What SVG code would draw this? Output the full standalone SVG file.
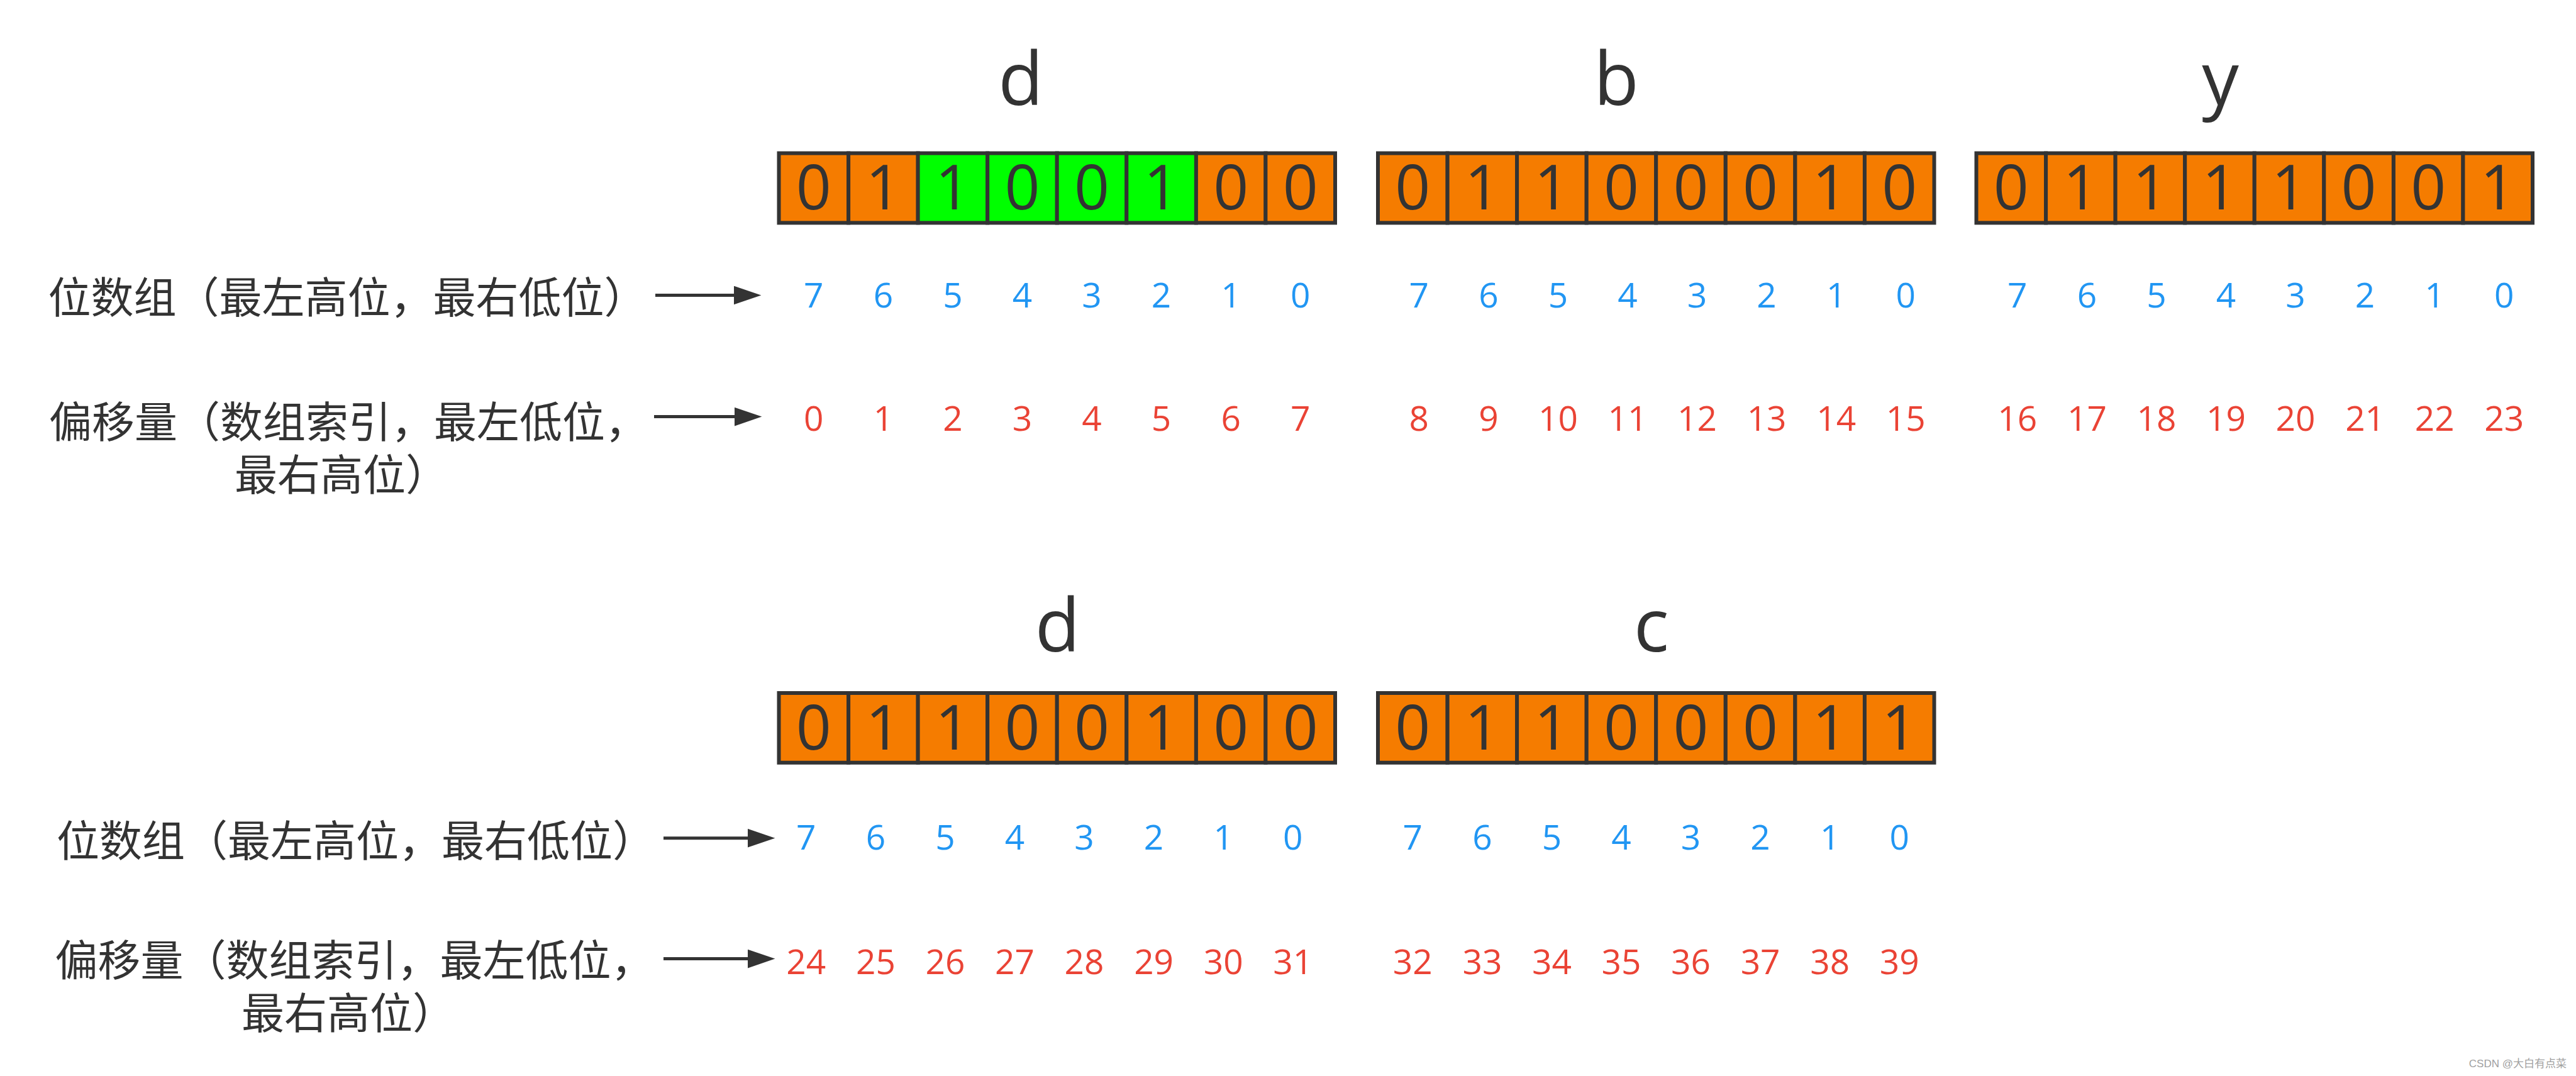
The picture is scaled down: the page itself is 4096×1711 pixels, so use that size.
<svg xmlns="http://www.w3.org/2000/svg" width="4096" height="1711" viewBox="0 0 4096 1711">
<style>
.cell{stroke:#333;stroke-width:6}
.o{fill:#F57C00}
.g{fill:#00FF00}
.bit{font-family:"Open Sans","Liberation Sans",sans-serif;font-size:98px;fill:#333;text-anchor:middle}
.lbl{font-family:"Open Sans","Liberation Sans",sans-serif;font-size:117px;fill:#333;text-anchor:middle}
.ib{font-family:"Open Sans","Liberation Sans",sans-serif;font-size:55px;fill:#2196F3;text-anchor:middle}
.ir{font-family:"Open Sans","Liberation Sans",sans-serif;font-size:55px;fill:#EA4335;text-anchor:middle}
.cn{font-family:"Noto Sans CJK SC","Noto Sans",sans-serif;font-size:68px;fill:#333}
.arr{stroke:#333;stroke-width:5;fill:none}
.wm{font-family:"Liberation Sans","Noto Sans CJK SC",sans-serif;font-size:17px;fill:#a0a0a0;text-anchor:end}
</style>
<defs>
<marker id="ah" markerUnits="userSpaceOnUse" markerWidth="44" markerHeight="30" refX="0" refY="14.8" orient="auto">
<path d="M0,0 L43.4,14.8 L0,29.6 Z" fill="#333"/>
</marker>
</defs>
<rect width="4096" height="1711" fill="#fff"/>

<g id="label-top-bits">
<text class="cn" x="76.6" y="497.5">位数组（最左高位，最右低位）</text>
</g>
<g id="label-top-offset">
<text class="cn" x="78" y="696">偏移量（数组索引，最左低位，<tspan x="373" y="780">最右高位）</tspan></text>
</g>
<g id="label-bottom-bits">
<text class="cn" x="90" y="1362">位数组（最左高位，最右低位）</text>
</g>
<g id="label-bottom-offset">
<text class="cn" x="87.5" y="1552">偏移量（数组索引，最左低位，<tspan x="384" y="1636">最右高位）</tspan></text>
</g>

<g id="connectors">
<line class="arr" x1="1042" y1="469.5" x2="1167" y2="469.5" marker-end="url(#ah)"/>
<line class="arr" x1="1040" y1="662.6" x2="1168" y2="662.6" marker-end="url(#ah)"/>
<line class="arr" x1="1055" y1="1332.7" x2="1189" y2="1332.7" marker-end="url(#ah)"/>
<line class="arr" x1="1055" y1="1524.6" x2="1189" y2="1524.6" marker-end="url(#ah)"/>
</g>

<g id="byte-d-top">
<text class="lbl" x="1623" y="166.8">d</text>
<rect class="cell o" x="1238.5" y="243.6" width="110.6" height="110.75"/>
<rect class="cell o" x="1349.1" y="243.6" width="110.6" height="110.75"/>
<rect class="cell g" x="1459.6" y="243.6" width="110.6" height="110.75"/>
<rect class="cell g" x="1570.2" y="243.6" width="110.6" height="110.75"/>
<rect class="cell g" x="1680.7" y="243.6" width="110.6" height="110.75"/>
<rect class="cell g" x="1791.3" y="243.6" width="110.6" height="110.75"/>
<rect class="cell o" x="1901.9" y="243.6" width="110.6" height="110.75"/>
<rect class="cell o" x="2012.4" y="243.6" width="110.6" height="110.75"/>
<text class="bit" x="1293.8" y="333">0</text>
<text class="bit" x="1404.4" y="333">1</text>
<text class="bit" x="1514.9" y="333">1</text>
<text class="bit" x="1625.5" y="333">0</text>
<text class="bit" x="1736.0" y="333">0</text>
<text class="bit" x="1846.6" y="333">1</text>
<text class="bit" x="1957.2" y="333">0</text>
<text class="bit" x="2067.7" y="333">0</text>
<text class="ib" x="1293.8" y="489">7</text>
<text class="ib" x="1404.4" y="489">6</text>
<text class="ib" x="1514.9" y="489">5</text>
<text class="ib" x="1625.5" y="489">4</text>
<text class="ib" x="1736.0" y="489">3</text>
<text class="ib" x="1846.6" y="489">2</text>
<text class="ib" x="1957.2" y="489">1</text>
<text class="ib" x="2067.7" y="489">0</text>
<text class="ir" x="1293.8" y="685">0</text>
<text class="ir" x="1404.4" y="685">1</text>
<text class="ir" x="1514.9" y="685">2</text>
<text class="ir" x="1625.5" y="685">3</text>
<text class="ir" x="1736.0" y="685">4</text>
<text class="ir" x="1846.6" y="685">5</text>
<text class="ir" x="1957.2" y="685">6</text>
<text class="ir" x="2067.7" y="685">7</text>
</g>

<g id="byte-b">
<text class="lbl" x="2570" y="166.8">b</text>
<rect class="cell o" x="2191.0" y="243.6" width="110.6" height="110.75"/>
<rect class="cell o" x="2301.6" y="243.6" width="110.6" height="110.75"/>
<rect class="cell o" x="2412.1" y="243.6" width="110.6" height="110.75"/>
<rect class="cell o" x="2522.7" y="243.6" width="110.6" height="110.75"/>
<rect class="cell o" x="2633.2" y="243.6" width="110.6" height="110.75"/>
<rect class="cell o" x="2743.8" y="243.6" width="110.6" height="110.75"/>
<rect class="cell o" x="2854.4" y="243.6" width="110.6" height="110.75"/>
<rect class="cell o" x="2964.9" y="243.6" width="110.6" height="110.75"/>
<text class="bit" x="2246.3" y="333">0</text>
<text class="bit" x="2356.9" y="333">1</text>
<text class="bit" x="2467.4" y="333">1</text>
<text class="bit" x="2578.0" y="333">0</text>
<text class="bit" x="2688.5" y="333">0</text>
<text class="bit" x="2799.1" y="333">0</text>
<text class="bit" x="2909.7" y="333">1</text>
<text class="bit" x="3020.2" y="333">0</text>
<text class="ib" x="2256.3" y="489">7</text>
<text class="ib" x="2366.9" y="489">6</text>
<text class="ib" x="2477.4" y="489">5</text>
<text class="ib" x="2588.0" y="489">4</text>
<text class="ib" x="2698.5" y="489">3</text>
<text class="ib" x="2809.1" y="489">2</text>
<text class="ib" x="2919.7" y="489">1</text>
<text class="ib" x="3030.2" y="489">0</text>
<text class="ir" x="2256.3" y="685">8</text>
<text class="ir" x="2366.9" y="685">9</text>
<text class="ir" x="2477.4" y="685">10</text>
<text class="ir" x="2588.0" y="685">11</text>
<text class="ir" x="2698.5" y="685">12</text>
<text class="ir" x="2809.1" y="685">13</text>
<text class="ir" x="2919.7" y="685">14</text>
<text class="ir" x="3030.2" y="685">15</text>
</g>

<g id="byte-y">
<text class="lbl" x="3530.6" y="166.8">y</text>
<rect class="cell o" x="3142.5" y="243.6" width="110.6" height="110.75"/>
<rect class="cell o" x="3253.1" y="243.6" width="110.6" height="110.75"/>
<rect class="cell o" x="3363.6" y="243.6" width="110.6" height="110.75"/>
<rect class="cell o" x="3474.2" y="243.6" width="110.6" height="110.75"/>
<rect class="cell o" x="3584.7" y="243.6" width="110.6" height="110.75"/>
<rect class="cell o" x="3695.3" y="243.6" width="110.6" height="110.75"/>
<rect class="cell o" x="3805.9" y="243.6" width="110.6" height="110.75"/>
<rect class="cell o" x="3916.4" y="243.6" width="110.6" height="110.75"/>
<text class="bit" x="3197.8" y="333">0</text>
<text class="bit" x="3308.4" y="333">1</text>
<text class="bit" x="3418.9" y="333">1</text>
<text class="bit" x="3529.5" y="333">1</text>
<text class="bit" x="3640.0" y="333">1</text>
<text class="bit" x="3750.6" y="333">0</text>
<text class="bit" x="3861.2" y="333">0</text>
<text class="bit" x="3971.7" y="333">1</text>
<text class="ib" x="3207.8" y="489">7</text>
<text class="ib" x="3318.4" y="489">6</text>
<text class="ib" x="3428.9" y="489">5</text>
<text class="ib" x="3539.5" y="489">4</text>
<text class="ib" x="3650.0" y="489">3</text>
<text class="ib" x="3760.6" y="489">2</text>
<text class="ib" x="3871.2" y="489">1</text>
<text class="ib" x="3981.7" y="489">0</text>
<text class="ir" x="3207.8" y="685">16</text>
<text class="ir" x="3318.4" y="685">17</text>
<text class="ir" x="3428.9" y="685">18</text>
<text class="ir" x="3539.5" y="685">19</text>
<text class="ir" x="3650.0" y="685">20</text>
<text class="ir" x="3760.6" y="685">21</text>
<text class="ir" x="3871.2" y="685">22</text>
<text class="ir" x="3981.7" y="685">23</text>
</g>

<g id="byte-d-bottom">
<text class="lbl" x="1681.5" y="1035.5">d</text>
<rect class="cell o" x="1238.5" y="1102" width="110.6" height="110.75"/>
<rect class="cell o" x="1349.1" y="1102" width="110.6" height="110.75"/>
<rect class="cell o" x="1459.6" y="1102" width="110.6" height="110.75"/>
<rect class="cell o" x="1570.2" y="1102" width="110.6" height="110.75"/>
<rect class="cell o" x="1680.7" y="1102" width="110.6" height="110.75"/>
<rect class="cell o" x="1791.3" y="1102" width="110.6" height="110.75"/>
<rect class="cell o" x="1901.9" y="1102" width="110.6" height="110.75"/>
<rect class="cell o" x="2012.4" y="1102" width="110.6" height="110.75"/>
<text class="bit" x="1293.8" y="1192.4">0</text>
<text class="bit" x="1404.4" y="1192.4">1</text>
<text class="bit" x="1514.9" y="1192.4">1</text>
<text class="bit" x="1625.5" y="1192.4">0</text>
<text class="bit" x="1736.0" y="1192.4">0</text>
<text class="bit" x="1846.6" y="1192.4">1</text>
<text class="bit" x="1957.2" y="1192.4">0</text>
<text class="bit" x="2067.7" y="1192.4">0</text>
<text class="ib" x="1281.8" y="1351">7</text>
<text class="ib" x="1392.4" y="1351">6</text>
<text class="ib" x="1502.9" y="1351">5</text>
<text class="ib" x="1613.5" y="1351">4</text>
<text class="ib" x="1724.0" y="1351">3</text>
<text class="ib" x="1834.6" y="1351">2</text>
<text class="ib" x="1945.2" y="1351">1</text>
<text class="ib" x="2055.7" y="1351">0</text>
<text class="ir" x="1281.8" y="1548.6">24</text>
<text class="ir" x="1392.4" y="1548.6">25</text>
<text class="ir" x="1502.9" y="1548.6">26</text>
<text class="ir" x="1613.5" y="1548.6">27</text>
<text class="ir" x="1724.0" y="1548.6">28</text>
<text class="ir" x="1834.6" y="1548.6">29</text>
<text class="ir" x="1945.2" y="1548.6">30</text>
<text class="ir" x="2055.7" y="1548.6">31</text>
</g>

<g id="byte-c">
<text class="lbl" x="2625.7" y="1035.5">c</text>
<rect class="cell o" x="2191.0" y="1102" width="110.6" height="110.75"/>
<rect class="cell o" x="2301.6" y="1102" width="110.6" height="110.75"/>
<rect class="cell o" x="2412.1" y="1102" width="110.6" height="110.75"/>
<rect class="cell o" x="2522.7" y="1102" width="110.6" height="110.75"/>
<rect class="cell o" x="2633.2" y="1102" width="110.6" height="110.75"/>
<rect class="cell o" x="2743.8" y="1102" width="110.6" height="110.75"/>
<rect class="cell o" x="2854.4" y="1102" width="110.6" height="110.75"/>
<rect class="cell o" x="2964.9" y="1102" width="110.6" height="110.75"/>
<text class="bit" x="2246.3" y="1192.4">0</text>
<text class="bit" x="2356.9" y="1192.4">1</text>
<text class="bit" x="2467.4" y="1192.4">1</text>
<text class="bit" x="2578.0" y="1192.4">0</text>
<text class="bit" x="2688.5" y="1192.4">0</text>
<text class="bit" x="2799.1" y="1192.4">0</text>
<text class="bit" x="2909.7" y="1192.4">1</text>
<text class="bit" x="3020.2" y="1192.4">1</text>
<text class="ib" x="2246.3" y="1351">7</text>
<text class="ib" x="2356.9" y="1351">6</text>
<text class="ib" x="2467.4" y="1351">5</text>
<text class="ib" x="2578.0" y="1351">4</text>
<text class="ib" x="2688.5" y="1351">3</text>
<text class="ib" x="2799.1" y="1351">2</text>
<text class="ib" x="2909.7" y="1351">1</text>
<text class="ib" x="3020.2" y="1351">0</text>
<text class="ir" x="2246.3" y="1548.6">32</text>
<text class="ir" x="2356.9" y="1548.6">33</text>
<text class="ir" x="2467.4" y="1548.6">34</text>
<text class="ir" x="2578.0" y="1548.6">35</text>
<text class="ir" x="2688.5" y="1548.6">36</text>
<text class="ir" x="2799.1" y="1548.6">37</text>
<text class="ir" x="2909.7" y="1548.6">38</text>
<text class="ir" x="3020.2" y="1548.6">39</text>
</g>

<g id="watermark">
<text class="wm" x="4081" y="1697">CSDN @大白有点菜</text>
</g>
</svg>
